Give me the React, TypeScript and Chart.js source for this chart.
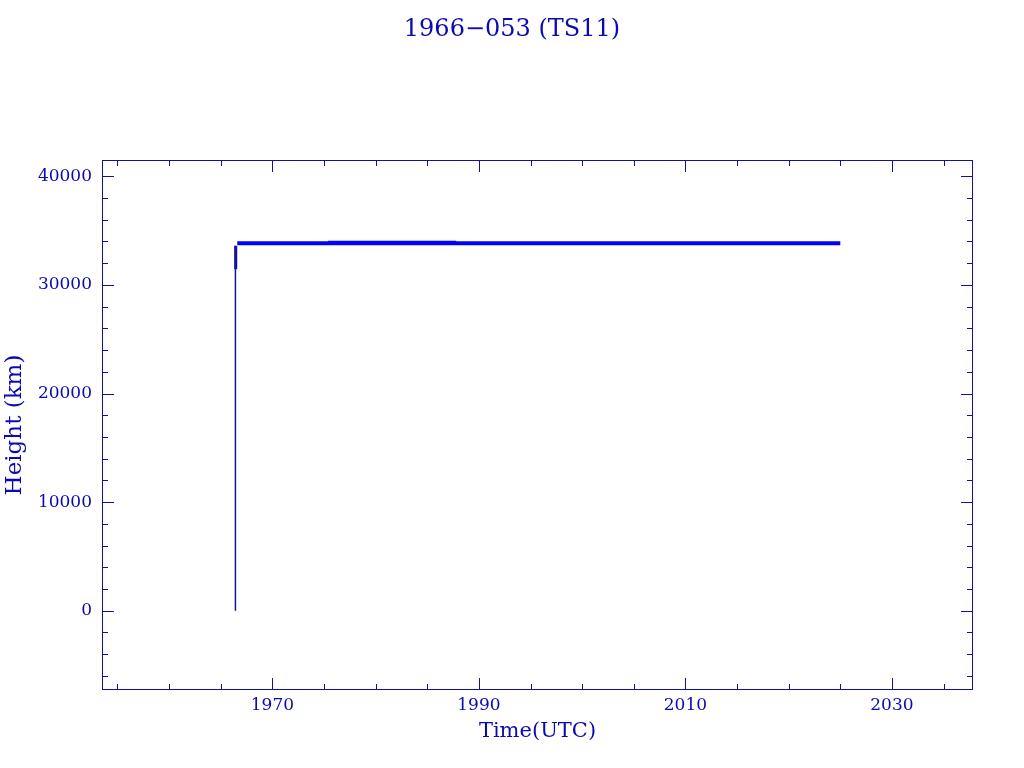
import React, { useEffect, useRef } from "react";
import { Chart, registerables } from "chart.js";

Chart.register(...registerables);

// ---- data (decimal years, km) ----
const TITLE = "1966\u2212053 (TS11)";
const X_TITLE = "Time(UTC)";
const Y_TITLE = "Height (km)";

const xMajorTicks = [1970, 1990, 2010, 2030];
const xMinorTicks = [1955, 1960, 1965, 1975, 1980, 1985, 1995, 2000, 2005, 2015, 2020, 2025, 2035];
const yMajorTicks = [0, 10000, 20000, 30000, 40000];
const yMinorTicks = [-6000, -4000, -2000, 2000, 4000, 6000, 8000, 12000, 14000, 16000, 18000, 22000, 24000, 26000, 28000, 32000, 34000, 36000, 38000];

const launchYears = [1966.42, 1966.42];
const launchHeights = [0, 33600];

const transferYears = [1966.45, 1966.45];
const transferHeights = [31450, 33600];

const orbitYears = [1966.6, 1975.4, 1987.8, 1993.8, 2025.0];
const orbitHeights = [33830, 33830, 33830, 33830, 33830];

const upperYears = [1975.4, 1987.8];
const upperHeights = [33870, 33870];

const X_MIN = 1953.5;
const X_MAX = 2037.85;
const Y_MIN = -7300;
const Y_MAX = 41500;

const TEXT = "#0a0ab0";
const FRAME = "#12129c";
const LINE = "#0000ff";
const FONT = "DejaVu Serif";

const pts = (xs: number[], ys: number[]) => xs.map((x, i) => ({ x, y: ys[i] }));

const frameTicksPlugin = {
  id: "frameTicks",
  afterDraw(chart: any) {
    const { ctx, chartArea: a, scales } = chart;
    const xs = scales.x;
    const ys = scales.y;
    ctx.save();
    ctx.strokeStyle = FRAME;
    ctx.lineWidth = 1;
    ctx.strokeRect(a.left + 0.5, a.top + 0.5, a.right - a.left - 1, a.bottom - a.top - 1);
    const vtick = (v: number, len: number) => {
      const px = Math.round(xs.getPixelForValue(v)) + 0.5;
      ctx.beginPath();
      ctx.moveTo(px, a.bottom);
      ctx.lineTo(px, a.bottom - len);
      ctx.moveTo(px, a.top);
      ctx.lineTo(px, a.top + len);
      ctx.stroke();
    };
    const htick = (v: number, len: number) => {
      const py = Math.round(ys.getPixelForValue(v)) + 0.5;
      ctx.beginPath();
      ctx.moveTo(a.left, py);
      ctx.lineTo(a.left + len, py);
      ctx.moveTo(a.right, py);
      ctx.lineTo(a.right - len, py);
      ctx.stroke();
    };
    xMajorTicks.forEach((v) => vtick(v, 12));
    xMinorTicks.forEach((v) => vtick(v, 6));
    yMajorTicks.forEach((v) => htick(v, 12));
    yMinorTicks.forEach((v) => htick(v, 6));
    ctx.restore();
  },
};

export default function App() {
  const ref = useRef<HTMLCanvasElement | null>(null);

  useEffect(() => {
    if (!ref.current) return;
    const chart = new Chart(ref.current, {
      type: "line",
      data: {
        datasets: [
          {
            label: "launch",
            data: pts(launchYears, launchHeights),
            borderColor: "#14148c",
            borderWidth: 1.5,
            pointRadius: 0,
            yAxisID: "y",
          },
          {
            label: "transfer",
            data: pts(transferYears, transferHeights),
            borderColor: "#0a0ac0",
            borderWidth: 3,
            pointRadius: 0,
            yAxisID: "y",
          },
          {
            label: "orbit",
            data: pts(orbitYears, orbitHeights),
            borderColor: LINE,
            borderWidth: 4,
            pointRadius: 0,
            yAxisID: "y",
          },
          {
            label: "orbit-upper",
            data: pts(upperYears, upperHeights),
            borderColor: LINE,
            borderWidth: 4,
            pointRadius: 0,
            yAxisID: "y",
          },
        ],
      },
      options: {
        responsive: false,
        animation: false,
        layout: { padding: 0 },
        plugins: {
          legend: { display: false },
          tooltip: { enabled: false },
          title: {
            display: true,
            text: TITLE,
            color: TEXT,
            font: { family: FONT, size: 24, weight: "normal", lineHeight: 1.2 },
            padding: { top: 15.6, bottom: 115.6 },
          },
        },
        scales: {
          x: {
            type: "linear",
            min: X_MIN,
            max: X_MAX,
            grid: { display: false, drawTicks: false },
            border: { display: false },
            afterBuildTicks: (s: any) => {
              s.ticks = xMajorTicks.map((v) => ({ value: v }));
            },
            afterFit: (s: any) => {
              s.height = 78;
            },
            ticks: {
              color: TEXT,
              padding: 5,
              maxRotation: 0,
              autoSkip: false,
              font: { family: FONT, size: 17 },
              callback: (v: any) => String(v),
            },
            title: {
              display: true,
              text: X_TITLE,
              color: TEXT,
              font: { family: FONT, size: 21, lineHeight: 1.2 },
              padding: { top: 0, bottom: 23.4 },
            },
          },
          y: {
            type: "linear",
            position: "left",
            min: Y_MIN,
            max: Y_MAX,
            grid: { display: false, drawTicks: false },
            border: { display: false },
            afterBuildTicks: (s: any) => {
              s.ticks = yMajorTicks.map((v) => ({ value: v }));
            },
            afterFit: (s: any) => {
              s.width = 102;
            },
            ticks: {
              color: TEXT,
              padding: 10,
              autoSkip: false,
              font: { family: FONT, size: 17 },
              callback: (v: any) => String(v),
            },
            title: {
              display: true,
              text: Y_TITLE,
              color: TEXT,
              font: { family: FONT, size: 23, lineHeight: 1.2 },
              padding: { top: 1.2, bottom: 0 },
            },
          },
          yRight: {
            type: "linear",
            position: "right",
            display: true,
            grid: { display: false, drawTicks: false },
            border: { display: false },
            ticks: { display: false },
            afterFit: (s: any) => {
              s.width = 51;
            },
          },
        },
      },
      plugins: [frameTicksPlugin],
    } as any);
    return () => chart.destroy();
  }, []);

  return (
    <div style={{ position: "absolute", left: 0, top: 0, width: 1024, height: 768, background: "#fff" }}>
      <canvas ref={ref} width={1024} height={768} style={{ display: "block" }} />
    </div>
  );
}
